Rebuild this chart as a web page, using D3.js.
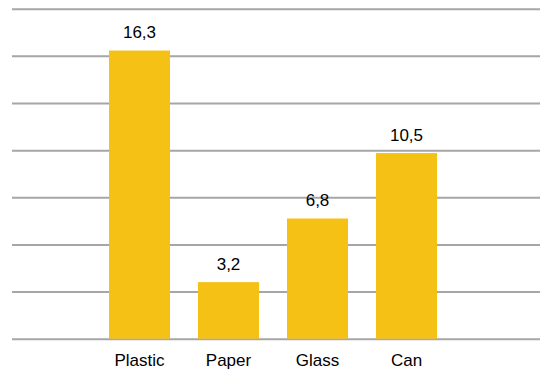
<!DOCTYPE html>
<html>
<head>
	<title></title>
	<script src="https://d3js.org/d3.v7.min.js"></script>
	<style>
		body { margin: 0; background: #fff; }
		text { font-family: "Liberation Sans", Arial, sans-serif; fill: #000; }
	</style>
</head>
<body>
	<div id="chart"></div>
	<script type="text/javascript">
		// data
		var categories = ['Plastic', 'Paper', 'Glass', 'Can'];
		var values = [16.3, 3.2, 6.8, 10.5];
		var valueLabels = ['16,3', '3,2', '6,8', '10,5'];
		var gridTicks = [0, 2.667, 5.333, 8, 10.667, 13.333, 16, 18.667];

		var width = 542, height = 369;

		var svg = d3.select('#chart').append('svg')
			.attr('width', width)
			.attr('height', height);

		// scales
		var yScale = d3.scaleLinear()
			.domain([0, 18.667])
			.range([338.7, 8.7]);

		var xScale = d3.scaleBand()
			.domain(categories)
			.range([95, 451])
			.paddingInner(0.315)
			.paddingOuter(0.1575);

		// gridlines
		var yAxis = d3.axisLeft(yScale)
			.tickValues(gridTicks)
			.tickFormat('');

		var grid = svg.append('g')
			.attr('transform', 'translate(12,0)')
			.call(yAxis);
		grid.select('.domain').remove();
		grid.selectAll('line')
			.attr('x1', 0)
			.attr('x2', 528)
			.style('stroke', '#a6a6a6')
			.style('stroke-width', 2);

		// bars
		svg.selectAll('rect.bar')
			.data(values)
			.enter()
			.append('rect')
			.attr('class', 'bar')
			.attr('x', function(d, i) { return xScale(categories[i]); })
			.attr('width', xScale.bandwidth())
			.attr('y', function(d) { return yScale(d); })
			.attr('height', function(d) { return yScale(0) - yScale(d); })
			.style('fill', '#f5c115');

		// value labels
		svg.selectAll('text.val')
			.data(values)
			.enter()
			.append('text')
			.attr('class', 'val')
			.attr('x', function(d, i) { return xScale(categories[i]) + xScale.bandwidth() / 2; })
			.attr('y', function(d) { return yScale(d) - 12.5; })
			.attr('text-anchor', 'middle')
			.style('font-size', '17px')
			.text(function(d, i) { return valueLabels[i]; });

		// category axis
		var xAxis = d3.axisBottom(xScale).tickSize(0).tickPadding(0);
		var xg = svg.append('g')
			.attr('transform', 'translate(0,' + 338.7 + ')')
			.call(xAxis);
		xg.select('.domain').remove();
		xg.selectAll('text')
			.attr('dy', 0)
			.attr('y', 27.5)
			.style('font-size', '17px')
			.style('font-family', '"Liberation Sans", Arial, sans-serif')
			.style('fill', '#000');
	</script>
</body>
</html>
